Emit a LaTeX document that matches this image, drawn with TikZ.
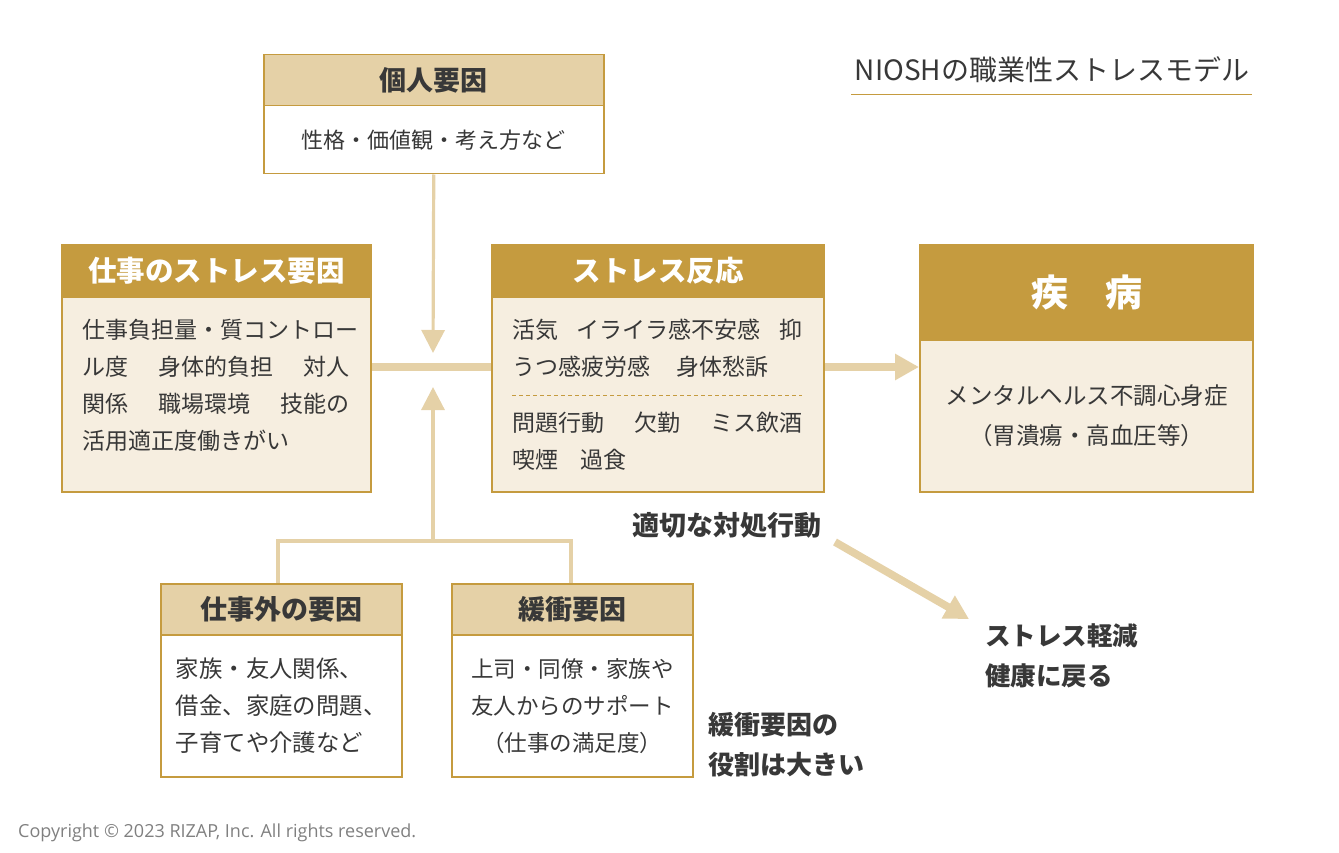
\documentclass[tikz,border=0pt]{standalone}
\usepackage{fontspec}
\setmainfont{Noto Sans CJK JP}
\newfontfamily\latinfont{Open Sans}
\usetikzlibrary{arrows.meta}
\definecolor{gold}{HTML}{C59B3F}
\definecolor{tan}{HTML}{E5D1A7}
\definecolor{cream}{HTML}{F6EEE0}
\definecolor{ink}{HTML}{383838}
\newcommand\jgap[1][1.3em]{\hspace{#1}}
\tikzset{
  box/.style={draw=gold, line width=1.5pt, inner sep=0pt, anchor=north west},
  big/.style={line width=2pt},
  hdr/.style={text=white, font=\bfseries\fontsize{28.5}{34}\selectfont},
  sub/.style={text=ink, font=\bfseries\fontsize{27}{32}\selectfont},
  txt/.style={inner sep=0pt, align=left, text=ink, font=\fontsize{23}{37}\selectfont},
  note/.style={inner sep=0pt, align=left, text=ink, font=\bfseries\fontsize{26}{40}\selectfont},
  link/.style={draw=tan, line width=3.2pt},
  bar/.style={draw=tan, line width=7.7pt},
  tip/.style={-{Triangle[width=23pt,length=23pt]}},
  bigtip/.style={-{Triangle[width=25pt,length=24pt]}}
}
\begin{document}
\begin{tikzpicture}[x=1pt,y=-1pt]
\useasboundingbox (0,0) rectangle (1339,853);
\node[inner sep=0pt, text=ink, font=\fontsize{28}{32}\selectfont] (title) at (1052,70) {NIOSHの職業性ストレスモデル};
\draw[gold, line width=1pt] (851,95) -- (1252,95);

\coordinate (mid) at (433,367);
\coordinate (in-top) at (433,353);
\coordinate (in-bot) at (433,387);
\coordinate (fork) at (433,541);
\coordinate (cope-a) at (835,542);
\coordinate (cope-b) at (969,619);

\node[box, fill=tan, minimum width=340, minimum height=51, sub] (person-h) at (263,54) {個人要因};
\node[box, fill=white, minimum width=340, minimum height=68, txt, align=center, font=\fontsize{22}{30}\selectfont] (person) at (263,105) {性格・価値観・考え方など};

\node[box, big, fill=cream, minimum width=309, minimum height=195] (work-b) at (61,296) {};
\node[box, big, fill=gold, minimum width=309, minimum height=52, hdr] (work-h) at (61,244) {仕事のストレス要因};
\node[txt, anchor=north west] (work-t) at (82,319) {仕事負担量・質コントロー\\ル度\jgap 身体的負担\jgap 対人\\関係\jgap 職場環境\jgap 技能の\\活用適正度働きがい};

\node[box, big, fill=cream, minimum width=332, minimum height=195] (react-b) at (491,296) {};
\node[box, big, fill=gold, minimum width=332, minimum height=52, hdr] (react-h) at (491,244) {ストレス反応};
\node[txt, anchor=north west] (react-t1) at (512,319) {活気\jgap[0.8em]イライラ感不安感\jgap[0.8em]抑\\うつ感疲労感\jgap[1.15em]身体愁訴};
\draw[gold, line width=0.8pt, dash pattern=on 4pt off 3pt] (512,395) -- (802,395);
\node[txt, anchor=north west] (react-t2) at (512,412) {問題行動\jgap 欠勤\jgap ミス飲酒\\喫煙\jgap[0.95em]過食};

\node[box, big, fill=cream, minimum width=333, minimum height=152, txt, align=center, font=\fontsize{23.5}{40}\selectfont] (dis-b) at (919,339) {メンタルヘルス不調心身症\\（胃潰瘍・高血圧等）};
\node[box, big, fill=gold, minimum width=333, minimum height=95, hdr, font=\bfseries\fontsize{37}{40}\selectfont] (dis-h) at (919,244) {疾　病};

\node[box, fill=white, minimum width=241, minimum height=142, txt, font=\fontsize{23.4}{37}\selectfont] (other-b) at (160,634) {家族・友人関係、\\借金、家庭の問題、\\子育てや介護など};
\node[box, fill=tan, minimum width=241, minimum height=51, sub] (other-h) at (160,583) {仕事外の要因};
\node[box, fill=white, minimum width=241, minimum height=142, txt, align=center, font=\fontsize{22.5}{37}\selectfont] (buffer-b) at (451,634) {上司・同僚・家族や\\友人からのサポート\\（仕事の満足度）};
\node[box, fill=tan, minimum width=241, minimum height=51, sub] (buffer-h) at (451,583) {緩衝要因};

\draw[link, tip] (person.south) -- (in-top);
\draw[link] (other-h.north -| 278,0) |- (fork) -| (buffer-h.north -| 571,0);
\draw[link, tip] (fork) -- (in-bot);
\draw[bar] (work-b.east |- mid) -- (react-b.west |- mid);
\draw[bar, bigtip] (react-b.east |- mid) -- (dis-b.west |- mid);
\draw[bar, bigtip] (cope-a) -- (cope-b);

\node[note, font=\bfseries\fontsize{27}{30}\selectfont] (cope) at (727,525) {適切な対処行動};
\node[note, anchor=north west, font=\bfseries\fontsize{25.5}{40}\selectfont] (relief) at (985,623) {ストレス軽減\\健康に戻る};
\node[note, anchor=north west] (role) at (708,712) {緩衝要因の\\役割は大きい};

\node[inner sep=0pt, anchor=west, text=black!50, font=\latinfont\fontsize{18}{22}\selectfont] (copy) at (18,833) {Copyright © 2023 RIZAP, Inc. All rights reserved.};
\end{tikzpicture}
\end{document}
